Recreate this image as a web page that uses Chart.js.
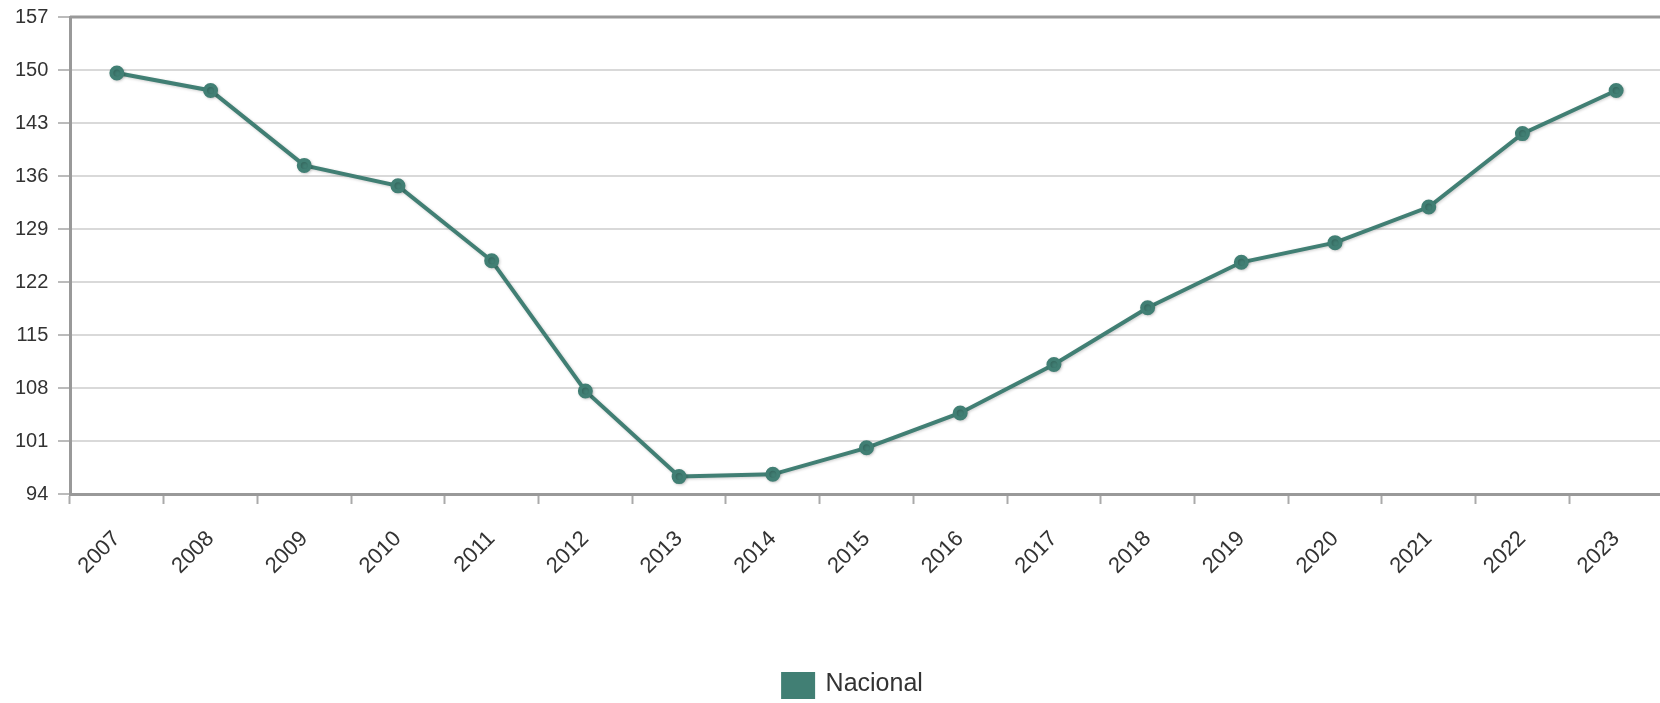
<!DOCTYPE html>
<html>
<head>
<meta charset="utf-8">
<script src="https://cdn.jsdelivr.net/npm/chart.js@4"></script>
<style>
  html, body { margin: 0; padding: 0; overflow: hidden; background: #fff; }
  #wrap { width: 1706px; height: 703px; }
</style>
</head>
<body>
<div id="wrap"><canvas id="chart"></canvas></div>
<script>
const years = ['2007', '2008', '2009', '2010', '2011', '2012', '2013', '2014', '2015',
  '2016', '2017', '2018', '2019', '2020', '2021', '2022', '2023'];
const nacional = [149.6, 147.3, 137.4, 134.7, 124.8, 107.6, 96.3, 96.6, 100.1,
  104.7, 111.1, 118.6, 124.6, 127.2, 131.9, 141.6, 147.3];
const yMin = 94;
const yMax = 157;
const yStep = 7;

const lineColor = '#417f74';
const textColor = '#333';
const fontFamily = "'Liberation Sans', Arial, sans-serif";

// top border of the plot area
const topBorder = {
  id: 'topBorder',
  afterDraw: (chart) => {
    const { ctx, chartArea } = chart;
    ctx.save();
    ctx.strokeStyle = '#999';
    ctx.lineWidth = 3;
    ctx.beginPath();
    ctx.moveTo(chartArea.left, chartArea.top);
    ctx.lineTo(chartArea.right + 50, chartArea.top);
    ctx.stroke();
    ctx.restore();
  },
};

// soft shadow under the line and points
const lineShadow = {
  id: 'lineShadow',
  beforeDatasetsDraw: (chart) => {
    const { ctx } = chart;
    ctx.save();
    ctx.shadowColor = 'rgba(0, 0, 0, 0.2)';
    ctx.shadowBlur = 3;
    ctx.shadowOffsetX = 1;
    ctx.shadowOffsetY = 1;
  },
  afterDatasetsDraw: (chart) => {
    chart.ctx.restore();
  },
};

const chart = new Chart(document.getElementById('chart'), {
  type: 'line',
  data: {
    labels: years,
    datasets: [{
      label: 'Nacional',
      data: nacional,
      borderColor: lineColor,
      backgroundColor: lineColor,
      borderWidth: 4,
      pointRadius: 5.5,
      pointBackgroundColor: lineColor,
      pointBorderColor: lineColor,
      tension: 0,
    }],
  },
  options: {
    responsive: true,
    maintainAspectRatio: false,
    animation: false,
    layout: { padding: { top: 17, right: 43, left: 43, bottom: -4 } },
    plugins: {
      legend: {
        position: 'bottom',
        labels: {
          boxWidth: 30,
          boxHeight: 25,
          padding: 0,
          color: textColor,
          font: { family: fontFamily, size: 25 },
        },
      },
      tooltip: { enabled: false },
    },
    scales: {
      x: {
        offset: true,
        afterFit: (scale) => { scale.height = 178; },
        grid: {
          offset: true,
          drawOnChartArea: false,
          tickLength: 10,
          tickColor: '#aaa',
          tickWidth: 2,
        },
        border: { color: '#999', width: 3 },
        ticks: {
          color: textColor,
          maxRotation: 45,
          minRotation: 45,
          padding: 22,
          font: { family: fontFamily, size: 22 },
        },
      },
      y: {
        min: yMin,
        max: yMax,
        afterFit: (scale) => { scale.width = 27; },
        grid: {
          color: '#d9d9d9',
          lineWidth: 2,
          tickLength: 12,
          tickColor: '#bbb',
        },
        border: { color: '#999', width: 3 },
        ticks: {
          stepSize: yStep,
          mirror: true,
          crossAlign: 'far',
          padding: -55,
          color: textColor,
          font: { family: fontFamily, size: 20 },
        },
      },
    },
  },
  plugins: [topBorder, lineShadow],
});
</script>
</body>
</html>
